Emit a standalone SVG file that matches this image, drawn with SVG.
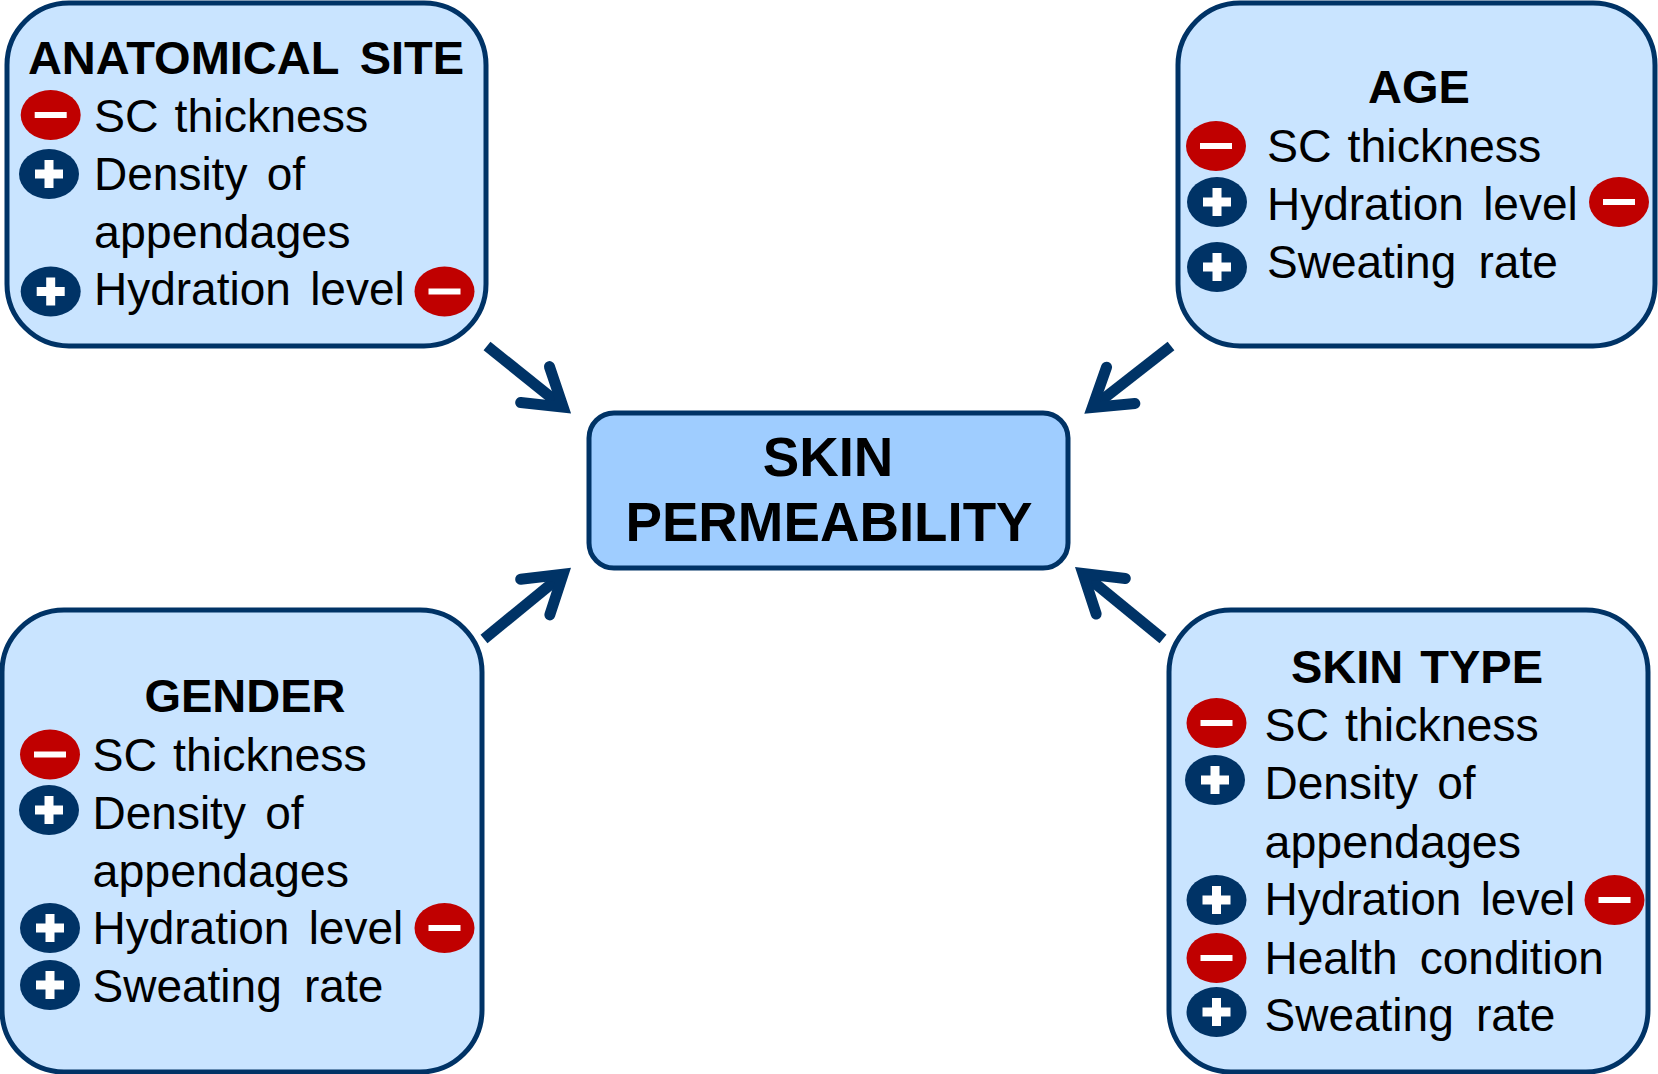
<svg xmlns="http://www.w3.org/2000/svg" width="1658" height="1074" viewBox="0 0 1658 1074">
<style>
text{font-family:"Liberation Sans",Arial,sans-serif;fill:#000}
.box{fill:#c9e4ff;stroke:#003366;stroke-width:5}
.core{fill:#9fcdff;stroke:#003366;stroke-width:5}
.t{font-size:47px;font-weight:bold;text-anchor:middle;word-spacing:8px}
.c{font-size:54.7px;font-weight:bold;text-anchor:middle}
.r{font-size:46px;word-spacing:6.5px}
.sc{font-size:46.5px;word-spacing:3px}
.ap{font-size:46.6px}
.w{font-size:46px;word-spacing:9.5px}
.arrow{stroke:#003366;stroke-width:11;fill:none}
</style>
<defs>
<marker id="head" markerUnits="userSpaceOnUse" markerWidth="80" markerHeight="80" refX="0" refY="0" orient="auto" overflow="visible">
<path d="M-32,-23 L4,0 L-32,23" fill="none" stroke="#003366" stroke-width="11" stroke-linecap="round"/>
</marker>
<g id="minus"><ellipse rx="30" ry="25" fill="#c00000"/><rect x="-16" y="-3" width="32" height="6" fill="#fff"/></g>
<g id="plus"><ellipse rx="30" ry="25" fill="#003366"/><path d="M-14,0H14M0,-14V14" stroke="#fff" stroke-width="9" fill="none"/></g>
</defs>
<g id="connectors">
<path class="arrow" marker-end="url(#head)" d="M487,346 L560,404.6"/>
<path class="arrow" marker-end="url(#head)" d="M1171,346 L1095.5,405"/>
<path class="arrow" marker-end="url(#head)" d="M484,639 L560,576.8"/>
<path class="arrow" marker-end="url(#head)" d="M1163,639 L1086,576"/>
</g>
<g id="anatomical-site">
<rect class="box" x="7" y="3" width="479" height="343" rx="62"/>
<text class="t" x="246" y="74">ANATOMICAL SITE</text>
<use href="#minus" x="50.7" y="115"/><text class="sc" x="94" y="132">SC thickness</text>
<use href="#plus" x="49" y="174"/><text class="r" x="94" y="190">Density of</text>
<text class="ap" x="94" y="247.5">appendages</text>
<use href="#plus" x="50.7" y="291.5"/><text class="r" x="94" y="305">Hydration level</text>
<use href="#minus" x="444.5" y="291.5"/>
</g>
<g id="age">
<rect class="box" x="1178" y="3" width="477" height="343" rx="62"/>
<text class="t" x="1419" y="103">AGE</text>
<use href="#minus" x="1216" y="146"/><text class="sc" x="1267" y="161.5">SC thickness</text>
<use href="#plus" x="1217" y="202"/><text class="r" x="1267" y="219.5">Hydration level</text>
<use href="#minus" x="1619" y="202"/>
<use href="#plus" x="1217" y="267"/><text class="w" x="1267" y="278">Sweating rate</text>
</g>
<g id="skin-permeability">
<rect class="core" x="589" y="413" width="479" height="155" rx="25"/>
<text class="c" x="828" y="476">SKIN</text>
<text class="c" x="829" y="541">PERMEABILITY</text>
</g>
<g id="gender">
<rect class="box" x="2" y="610" width="480" height="462" rx="62"/>
<text class="t" x="245" y="712">GENDER</text>
<use href="#minus" x="50" y="754.5"/><text class="sc" x="92.5" y="771">SC thickness</text>
<use href="#plus" x="49" y="810"/><text class="r" x="92.5" y="829">Density of</text>
<text class="ap" x="92.5" y="887">appendages</text>
<use href="#plus" x="50" y="928"/><text class="r" x="92.5" y="944">Hydration level</text>
<use href="#minus" x="444.5" y="928"/>
<use href="#plus" x="50" y="985"/><text class="w" x="92.5" y="1002">Sweating rate</text>
</g>
<g id="skin-type">
<rect class="box" x="1169" y="610" width="479" height="462" rx="62"/>
<text class="t" x="1417" y="683" style="word-spacing:4px">SKIN TYPE</text>
<use href="#minus" x="1216.5" y="723"/><text class="sc" x="1264.5" y="741">SC thickness</text>
<use href="#plus" x="1215" y="780"/><text class="r" x="1264.5" y="799">Density of</text>
<text class="ap" x="1264.5" y="857.5">appendages</text>
<use href="#plus" x="1216.5" y="900"/><text class="r" x="1264.5" y="915">Hydration level</text>
<use href="#minus" x="1614.5" y="900"/>
<use href="#minus" x="1216.5" y="958"/><text class="w" x="1264.5" y="974">Health condition</text>
<use href="#plus" x="1216.5" y="1012"/><text class="w" x="1264.5" y="1031">Sweating rate</text>
</g>
</svg>
